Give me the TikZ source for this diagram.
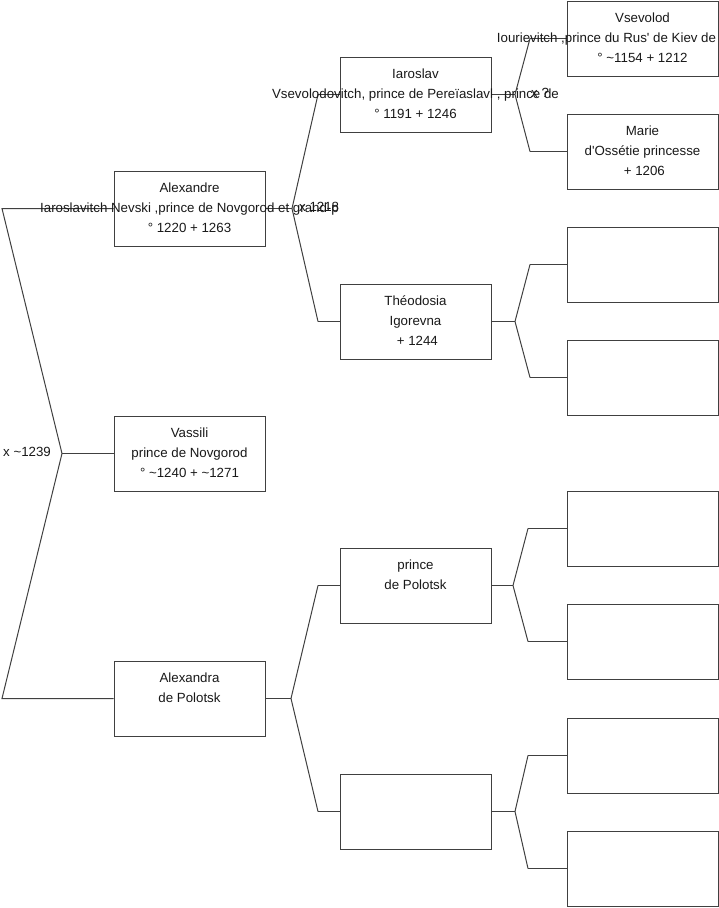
\documentclass[tikz,border=0pt]{standalone}
\usepackage{fontspec}
\setmainfont{Liberation Sans}[Ligatures=TeXOff]
\begin{document}
\begin{tikzpicture}[x=1pt,y=-1pt,
  box/.style={draw=black!75, line width=1pt, minimum width=151pt, minimum height=75pt, inner sep=0pt, fill=white},
  txt/.style={font=\fontsize{13.3}{20}\selectfont, align=center, inner sep=0pt, text=black!90},
  lbl/.style={font=\fontsize{13.3}{20}\selectfont, inner sep=0pt, anchor=west, text=black!90},
  link/.style={draw=black!75, line width=1pt}]
\useasboundingbox (0,0) rectangle (719,908);
\fill[white] (0,0) rectangle (719,908);

% coordinates of fork vertices and bends
\coordinate (f0) at (62,453.5);
\coordinate (f0u) at (2,208.5);
\coordinate (f0d) at (2,698.5);
\coordinate (f1) at (292,208.5);
\coordinate (f1u) at (318,94.5);
\coordinate (f1d) at (318,321.5);
\coordinate (f2) at (291,698.5);
\coordinate (f2u) at (318,585.5);
\coordinate (f2d) at (318,811.5);
\coordinate (g1) at (515,94.5);
\coordinate (g1u) at (530,38.5);
\coordinate (g1d) at (530,151.5);
\coordinate (g2) at (515,321.5);
\coordinate (g2u) at (530,264.5);
\coordinate (g2d) at (530,377.5);
\coordinate (g3) at (513,585.5);
\coordinate (g3u) at (528,528.5);
\coordinate (g3d) at (528,641.5);
\coordinate (g4) at (515,811.5);
\coordinate (g4u) at (528,755.5);
\coordinate (g4d) at (528,868.5);

% generation 1
\node[box] (alex) at (189.5,208.5) {};
\node[box] (vass) at (189.5,453.5) {};
\node[box] (alexa) at (189.5,698.5) {};
% generation 2
\node[box] (iaro) at (415.5,94.5) {};
\node[box] (theo) at (415.5,321.5) {};
\node[box] (polo) at (415.5,585.5) {};
\node[box] (e2) at (415.5,811.5) {};
% generation 3
\node[box] (vsev) at (642.5,38.5) {};
\node[box] (marie) at (642.5,151.5) {};
\node[box] (e3a) at (642.5,264.5) {};
\node[box] (e3b) at (642.5,377.5) {};
\node[box] (e3c) at (642.5,528.5) {};
\node[box] (e3d) at (642.5,641.5) {};
\node[box] (e3e) at (642.5,755.5) {};
\node[box] (e3f) at (642.5,868.5) {};

% connectors
\path[link] (f0) -- (f0u) -- (alex.west);
\path[link] (f0) -- (f0d) -- (alexa.west);
\path[link] (f0) -- (vass.west);
\path[link] (alex.east) -- (f1);
\path[link] (f1u) -- (f1) -- (f1d);
\path[link] (f1u) -- (iaro.west);
\path[link] (f1d) -- (theo.west);
\path[link] (alexa.east) -- (f2);
\path[link] (f2u) -- (f2) -- (f2d);
\path[link] (f2u) -- (polo.west);
\path[link] (f2d) -- (e2.west);
\path[link] (iaro.east) -- (g1);
\path[link] (g1u) -- (g1) -- (g1d);
\path[link] (g1u) -- (vsev.west);
\path[link] (g1d) -- (marie.west);
\path[link] (theo.east) -- (g2);
\path[link] (g2u) -- (g2) -- (g2d);
\path[link] (g2u) -- (e3a.west);
\path[link] (g2d) -- (e3b.west);
\path[link] (polo.east) -- (g3);
\path[link] (g3u) -- (g3) -- (g3d);
\path[link] (g3u) -- (e3c.west);
\path[link] (g3d) -- (e3d.west);
\path[link] (e2.east) -- (g4);
\path[link] (g4u) -- (g4) -- (g4d);
\path[link] (g4u) -- (e3e.west);
\path[link] (g4d) -- (e3f.west);

% texts
\node[txt] at ([yshift=1pt]alex.center) {Alexandre\\Iaroslavitch Nevski ,prince de Novgorod et grand-p\\° 1220 + 1263};
\node[txt] at ([yshift=1pt]vass.center) {Vassili\\prince de Novgorod\\° \textasciitilde1240 + \textasciitilde1271};
\node[txt] at ([yshift=1pt]alexa.center) {Alexandra\\de Polotsk\\\mbox{}};
\node[txt] at ([yshift=1pt]iaro.center) {Iaroslav\\Vsevolodovitch, prince de Pereïaslavl , prince de\\° 1191 + 1246};
\node[txt] at ([yshift=1pt]theo.center) {Théodosia\\Igorevna\\\ + 1244};
\node[txt] at ([yshift=1pt]polo.center) {prince\\de Polotsk\\\mbox{}};
\node[txt] at ([yshift=1pt]vsev.center) {Vsevolod\\\makebox[0pt]{Iourievitch ,prince du Rus' de Kiev de\hspace{72pt}}\\° \textasciitilde1154 + 1212};
\node[txt] at ([yshift=1pt]marie.center) {Marie\\d'Ossétie princesse\\\ + 1206};

% marriage labels
\node[lbl] (m0) at (3,452) {x \textasciitilde1239};
\node[lbl] (m1) at (299,207) {x 1218};
\node[lbl] (m2) at (531,93) {x ?};
\end{tikzpicture}
\end{document}
